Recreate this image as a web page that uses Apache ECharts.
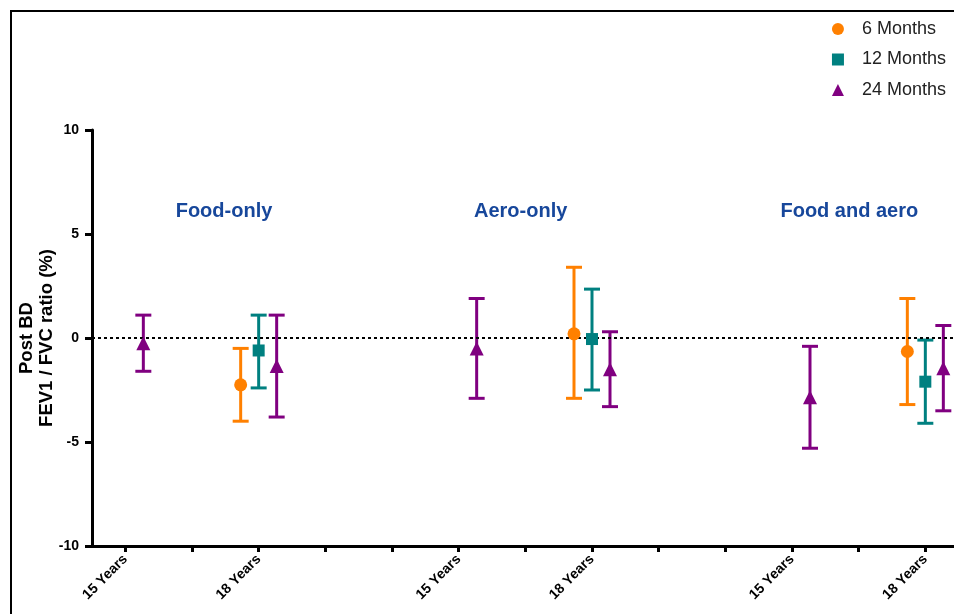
<!DOCTYPE html>
<html>
<head>
<meta charset="utf-8">
<script src="https://cdn.jsdelivr.net/npm/echarts@6/dist/echarts.min.js"></script>
<style>
  html, body { margin: 0; padding: 0; background: #fff; }
  #chart { width: 954px; height: 614px; }
</style>
</head>
<body>
<div id="chart"></div>
<script>
// tick slots along the x axis (1..13), only some carry a label
const xLabels = ['15 Years', '', '18 Years', '', '', '15 Years', '', '18 Years', '', '', '15 Years', '', '18 Years'];
const groupNames = ['Food-only', 'Aero-only', 'Food and aero'];
const groupCenters = [2.48, 6.93, 11.86];

const seriesNames = ['6 Months', '12 Months', '24 Months'];

// mean and 95% CI per slot (null = no value)
const m6Mean = [null, null, -2.25, null, null, null, null, 0.2, null, null, null, null, -0.65];
const m6Low  = [null, null, -4.0, null, null, null, null, -2.9, null, null, null, null, -3.2];
const m6High = [null, null, -0.5, null, null, null, null, 3.4, null, null, null, null, 1.9];

const m12Mean = [null, null, -0.6, null, null, null, null, -0.05, null, null, null, null, -2.1];
const m12Low  = [null, null, -2.4, null, null, null, null, -2.5, null, null, null, null, -4.1];
const m12High = [null, null, 1.1, null, null, null, null, 2.35, null, null, null, null, -0.1];

const m24Mean = [-0.25, null, -1.35, null, null, -0.5, null, -1.5, null, null, -2.85, null, -1.45];
const m24Low  = [-1.6, null, -3.8, null, null, -2.9, null, -3.3, null, null, -5.3, null, -3.5];
const m24High = [1.1, null, 1.1, null, null, 1.9, null, 0.3, null, null, -0.4, null, 0.6];

const yTicks = [-10, -5, 0, 5, 10];

const font = 'Arial, "Liberation Sans", sans-serif';
const colors = ['#ff8000', '#008080', '#800080'];
const symbols = ['circle', 'rect', 'triangle'];
const symbolSizes = [13, 12, 14];
const offsets = [-0.27, 0, 0.27];

const groups = [
  [m6Mean, m6Low, m6High],
  [m12Mean, m12Low, m12High],
  [m24Mean, m24Low, m24High]
];

const chart = echarts.init(document.getElementById('chart'));

const series = [];
groups.forEach((g, k) => {
  const [mean, low, high] = g;
  const pts = [];
  const bars = [];
  mean.forEach((m, i) => {
    if (m === null) return;
    const x = i + 1 + offsets[k];
    pts.push([x, m]);
    bars.push([x, low[i], high[i]]);
  });
  series.push({
    name: seriesNames[k] + ' CI',
    type: 'custom',
    z: 2,
    silent: true,
    data: bars,
    renderItem: (params, api) => {
      const x = api.value(0);
      const lo = api.coord([x, api.value(1)]);
      const hi = api.coord([x, api.value(2)]);
      const w = 8;
      const style = { stroke: colors[k], lineWidth: 3 };
      return {
        type: 'group',
        children: [
          { type: 'line', shape: { x1: lo[0], y1: lo[1], x2: hi[0], y2: hi[1] }, style },
          { type: 'line', shape: { x1: lo[0] - w, y1: lo[1], x2: lo[0] + w, y2: lo[1] }, style },
          { type: 'line', shape: { x1: hi[0] - w, y1: hi[1], x2: hi[0] + w, y2: hi[1] }, style }
        ]
      };
    }
  });
  series.push({
    name: seriesNames[k],
    type: 'scatter',
    z: 5,
    symbol: symbols[k],
    symbolSize: symbolSizes[k],
    itemStyle: { color: colors[k], opacity: 1 },
    data: pts
  });
});

// zero reference line
series.push({
  name: 'zero',
  type: 'line',
  data: [],
  silent: true,
  markLine: {
    silent: true,
    symbol: ['none', 'none'],
    label: { show: false },
    lineStyle: { color: '#000', width: 2, type: [3, 3] },
    data: [{ yAxis: 0 }]
  }
});

// group headings
series.push({
  name: 'groups',
  type: 'scatter',
  silent: true,
  symbolSize: 0,
  itemStyle: { opacity: 1 },
  data: groupNames.map((n, i) => ({ value: [groupCenters[i], 6.1], name: n })),
  label: {
    show: true,
    position: 'inside',
    formatter: p => p.name,
    color: '#17479b',
    opacity: 1,
    fontFamily: font,
    fontWeight: 'bold',
    fontSize: 20
  }
});

const option = {
  backgroundColor: '#fff',
  animation: false,
  graphic: [{
    type: 'rect',
    shape: { x: 11, y: 11, width: 980, height: 640 },
    style: { fill: 'none', stroke: '#000', lineWidth: 2 }
  }],
  legend: {
    data: seriesNames,
    orient: 'vertical',
    right: 3,
    top: 15,
    itemWidth: 12,
    itemHeight: 12,
    itemGap: 12.5,
    textStyle: { fontFamily: font, fontSize: 18, color: '#222', padding: [0, 0, 0, 13] }
  },
  grid: { left: 92, right: 0, top: 130, bottom: 68 },
  xAxis: {
    type: 'value',
    min: 0.5,
    max: 13.43,
    splitLine: { show: false },
    axisLine: { onZero: false, lineStyle: { color: '#000', width: 3 } },
    axisTick: { customValues: xLabels.map((l, i) => i + 1), length: 6, lineStyle: { color: '#000', width: 3 } },
    axisLabel: {
      customValues: xLabels.map((l, i) => i + 1).filter(v => xLabels[v - 1] !== ''),
      formatter: v => xLabels[Math.round(v) - 1],
      rotate: 45,
      margin: 11,
      color: '#000',
      fontFamily: font,
      fontWeight: 'bold',
      fontSize: 14
    }
  },
  yAxis: {
    type: 'value',
    min: yTicks[0],
    max: yTicks[yTicks.length - 1],
    interval: 5,
    name: 'Post BD\nFEV1 / FVC ratio (%)',
    nameLocation: 'middle',
    nameRotate: 90,
    nameGap: 35,
    nameMoveOverlap: false,
    nameTextStyle: { fontFamily: font, fontWeight: 'bold', fontSize: 18.5, color: '#000', lineHeight: 20 },
    splitLine: { show: false },
    axisLine: { show: true, lineStyle: { color: '#000', width: 3 } },
    axisTick: { show: true, length: 7, lineStyle: { color: '#000', width: 3 } },
    axisLabel: { margin: 13, color: '#000', fontFamily: font, fontWeight: 'bold', fontSize: 14 }
  },
  series: series
};

chart.setOption(option);
</script>
</body>
</html>
